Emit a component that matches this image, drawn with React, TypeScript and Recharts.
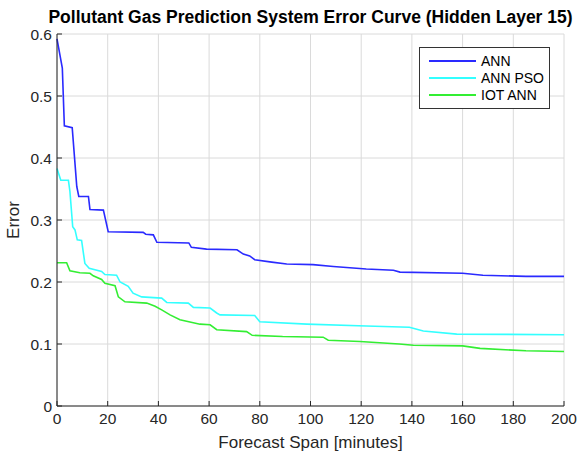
import React from 'react';
import {
    LineChart,
    Line,
    XAxis,
    YAxis,
    CartesianGrid,
    Legend
} from 'recharts';

// Error curves (forecast span in minutes -> error)
const annCurve = [
    { span: 0, error: 0.592 }, { span: 2.1, error: 0.545 }, { span: 2.9, error: 0.452 },
    { span: 6.0, error: 0.449 }, { span: 7.8, error: 0.354 }, { span: 8.6, error: 0.338 },
    { span: 12.4, error: 0.338 }, { span: 13.0, error: 0.317 }, { span: 18.3, error: 0.316 },
    { span: 20.2, error: 0.281 }, { span: 34, error: 0.280 }, { span: 35, error: 0.277 },
    { span: 38, error: 0.276 }, { span: 39.4, error: 0.264 }, { span: 52, error: 0.263 },
    { span: 53, error: 0.256 }, { span: 59, error: 0.253 }, { span: 71, error: 0.252 },
    { span: 73.5, error: 0.245 }, { span: 76, error: 0.242 }, { span: 78, error: 0.236 },
    { span: 84.7, error: 0.232 }, { span: 90.6, error: 0.229 }, { span: 101, error: 0.228 },
    { span: 109, error: 0.225 }, { span: 122, error: 0.221 }, { span: 132.7, error: 0.219 },
    { span: 135.3, error: 0.216 }, { span: 160, error: 0.214 }, { span: 168, error: 0.211 },
    { span: 185, error: 0.209 }, { span: 200, error: 0.209 }
];

const annPsoCurve = [
    { span: 0, error: 0.383 }, { span: 1.5, error: 0.364 }, { span: 4.5, error: 0.364 },
    { span: 5.1, error: 0.346 }, { span: 6.2, error: 0.289 }, { span: 7.1, error: 0.284 },
    { span: 8.0, error: 0.268 }, { span: 9.7, error: 0.267 }, { span: 11, error: 0.230 },
    { span: 12.7, error: 0.222 }, { span: 17.6, error: 0.217 }, { span: 18.9, error: 0.212 },
    { span: 23.5, error: 0.211 }, { span: 24.9, error: 0.200 }, { span: 28.1, error: 0.193 },
    { span: 30, error: 0.182 }, { span: 33.4, error: 0.176 }, { span: 41.3, error: 0.174 },
    { span: 43.3, error: 0.167 }, { span: 51.8, error: 0.166 }, { span: 53.8, error: 0.159 },
    { span: 60.4, error: 0.158 }, { span: 63, error: 0.150 }, { span: 64.3, error: 0.147 },
    { span: 78, error: 0.146 }, { span: 80, error: 0.136 }, { span: 98.5, error: 0.132 },
    { span: 122, error: 0.129 }, { span: 139, error: 0.127 }, { span: 144.5, error: 0.121 },
    { span: 157.7, error: 0.116 }, { span: 200, error: 0.115 }
];

const iotAnnCurve = [
    { span: 0, error: 0.231 }, { span: 3.8, error: 0.231 }, { span: 5.1, error: 0.218 },
    { span: 9, error: 0.215 }, { span: 13, error: 0.214 }, { span: 14.3, error: 0.210 },
    { span: 17.6, error: 0.204 }, { span: 18.9, error: 0.198 }, { span: 22.9, error: 0.194 },
    { span: 24.2, error: 0.176 }, { span: 26.8, error: 0.168 }, { span: 35.4, error: 0.166 },
    { span: 38.7, error: 0.161 }, { span: 41.3, error: 0.155 }, { span: 44.6, error: 0.147 },
    { span: 48.5, error: 0.139 }, { span: 56.4, error: 0.132 }, { span: 60.4, error: 0.131 },
    { span: 63, error: 0.123 }, { span: 74.8, error: 0.120 }, { span: 77, error: 0.114 },
    { span: 89, error: 0.112 }, { span: 105, error: 0.111 }, { span: 107, error: 0.106 },
    { span: 119.5, error: 0.104 }, { span: 135, error: 0.100 }, { span: 140.6, error: 0.098 },
    { span: 160, error: 0.097 }, { span: 166.9, error: 0.093 }, { span: 185, error: 0.089 },
    { span: 200, error: 0.088 }
];

const xTicks = [0, 20, 40, 60, 80, 100, 120, 140, 160, 180, 200];
const yTicks = [0, 0.1, 0.2, 0.3, 0.4, 0.5, 0.6];

const series = [
    { name: 'ANN', color: '#2a2aff', data: annCurve },
    { name: 'ANN PSO', color: '#33ffff', data: annPsoCurve },
    { name: 'IOT ANN', color: '#33ee33', data: iotAnnCurve }
];

const FONT = '"Liberation Sans", Arial, Helvetica, sans-serif';
const AXIS = '#262626';

function LegendBox() {
    return (
        <div style={{
            boxSizing: 'border-box',
            background: '#fff',
            border: '1px solid #333',
            padding: '4px 0 0 9px',
            fontFamily: FONT,
            fontSize: 14,
            color: '#000',
            width: 131,
            height: 62
        }}>
            {series.map(s => (
                <div key={s.name} style={{ display: 'flex', alignItems: 'center', height: 17 }}>
                    <div style={{ width: 47, height: 2, background: s.color, marginRight: 5, flexShrink: 0 }}></div>
                    <span>{s.name}</span>
                </div>
            ))}
        </div>
    );
}

// rotated, centred y-axis title
function ErrorLabel(props: any) {
    const { viewBox } = props;
    const cy = viewBox.y + viewBox.height / 2;
    return (
        <text
            x={13}
            y={cy}
            transform={`rotate(-90, 13, ${cy})`}
            textAnchor="middle"
            dominantBaseline="central"
            fill={AXIS}
            fontSize={17}
            fontFamily={FONT}
        >
            Error
        </text>
    );
}

export default function App() {
    return (
        <div style={{ position: 'absolute', left: 0, top: 0, width: 577, height: 452, background: '#fff' }}>
            <div style={{
                position: 'absolute', left: 0, width: 621, top: 7, textAlign: 'center',
                fontFamily: FONT, fontWeight: 'bold', fontSize: 17.5, color: '#000', zIndex: 1
            }}>
                Pollutant Gas Prediction System Error Curve (Hidden Layer 15)
            </div>
            <LineChart
                width={577}
                height={452}
                margin={{ top: 34, right: 13, left: 0, bottom: 0 }}
                style={{ fontFamily: FONT }}
            >
                <CartesianGrid stroke="#dadada" strokeWidth={1} />
                <XAxis
                    dataKey="span"
                    type="number"
                    domain={[0, 200]}
                    ticks={xTicks}
                    height={46}
                    allowDuplicatedCategory={false}
                    stroke={AXIS}
                    tickSize={-5}
                    tickMargin={12}
                    tick={{ fill: AXIS, fontSize: 15.5 }}
                    label={{ value: 'Forecast Span [minutes]', position: 'insideBottom', offset: 4, fill: AXIS, fontSize: 17 }}
                />
                <XAxis
                    xAxisId="top"
                    orientation="top"
                    type="number"
                    domain={[0, 200]}
                    ticks={xTicks}
                    height={0}
                    stroke={AXIS}
                    tickSize={-5}
                    tickFormatter={() => ''}
                />
                <YAxis
                    type="number"
                    domain={[0, 0.6]}
                    ticks={yTicks}
                    width={57}
                    stroke={AXIS}
                    tickSize={-5}
                    tickMargin={10}
                    tick={{ fill: AXIS, fontSize: 15.5 }}
                    label={<ErrorLabel />}
                />
                <YAxis
                    yAxisId="right"
                    orientation="right"
                    type="number"
                    domain={[0, 0.6]}
                    ticks={yTicks}
                    width={0}
                    stroke={AXIS}
                    tickSize={-5}
                    tickFormatter={() => ''}
                />
                <Legend
                    layout="vertical"
                    align="center"
                    verticalAlign="middle"
                    wrapperStyle={{ left: 419, top: 47, width: 'auto' }}
                    content={() => <LegendBox />}
                />
                {series.map(s => (
                    <Line
                        key={s.name}
                        data={s.data}
                        dataKey="error"
                        name={s.name}
                        type="linear"
                        stroke={s.color}
                        strokeWidth={1.6}
                        dot={false}
                        isAnimationActive={false}
                    />
                ))}
            </LineChart>
        </div>
    );
}
